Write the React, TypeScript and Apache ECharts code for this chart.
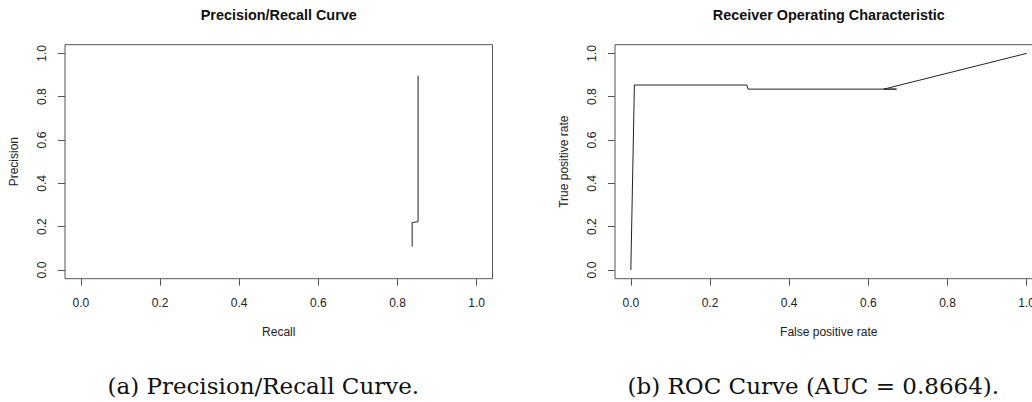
import React, { useEffect, useRef } from "react";
import * as echarts from "echarts";

// Precision/Recall curve
const prRecall = [0.852, 0.852, 0.837, 0.837];
const prPrecision = [0.897, 0.223, 0.219, 0.108];

// ROC curve
const rocFpr = [0, 0.009, 0.293, 0.296, 0.671, 0.639, 1.0];
const rocTpr = [0, 0.854, 0.854, 0.835, 0.835, 0.835, 1.0];

const tickValues = [0, 0.2, 0.4, 0.6, 0.8, 1.0];

const titles = ["Precision/Recall Curve", "Receiver Operating Characteristic"];
const xNames = ["Recall", "False positive rate"];
const yNames = ["Precision", "True positive rate"];
const captions = ["(a) Precision/Recall Curve.", "(b) ROC Curve (AUC = 0.8664)."];

const SANS = "'Liberation Sans', Arial, Helvetica, sans-serif";
const SERIF = "'DejaVu Serif', 'Liberation Serif', serif";
const AXIS_COLOR = "#555";
const TEXT_COLOR = "#222";

const gridLefts = [65, 615];
const GRID_TOP = 44.7;
const GRID_W = 427.5;
const GRID_H = 234;

function makeXAxis(i: number) {
  return {
    type: "value",
    gridIndex: i,
    min: -0.04,
    max: 1.04,
    axisLine: { show: false, onZero: false },
    splitLine: { show: false },
    axisTick: {
      show: true,
      inside: false,
      customValues: tickValues,
      length: 7,
      lineStyle: { color: AXIS_COLOR, width: 1 },
    },
    axisLabel: {
      customValues: tickValues,
      formatter: (v: number) => v.toFixed(1),
      margin: 18,
      fontSize: 12,
      color: TEXT_COLOR,
      fontFamily: SANS,
    },
    name: xNames[i],
    nameLocation: "middle",
    nameGap: 47,
    nameTextStyle: { fontSize: 12, color: TEXT_COLOR, fontFamily: SANS },
  };
}

function makeYAxis(i: number) {
  return {
    type: "value",
    gridIndex: i,
    min: -0.04,
    max: 1.04,
    axisLine: { show: false, onZero: false },
    splitLine: { show: false },
    axisTick: {
      show: true,
      inside: false,
      customValues: tickValues,
      length: 7,
      lineStyle: { color: AXIS_COLOR, width: 1 },
    },
    axisLabel: {
      customValues: tickValues,
      formatter: (v: number) => v.toFixed(1),
      rotate: 90,
      margin: 17,
      fontSize: 12,
      color: TEXT_COLOR,
      fontFamily: SANS,
    },
    name: yNames[i],
    nameLocation: "middle",
    nameGap: 45,
    nameTextStyle: { fontSize: 12, color: TEXT_COLOR, fontFamily: SANS },
  };
}

export default function App() {
  const ref = useRef<HTMLDivElement>(null);

  useEffect(() => {
    if (!ref.current) return;
    const chart = echarts.init(ref.current, null, { renderer: "svg" });

    const prData = prRecall.map((r, k) => [r, prPrecision[k]]);
    const rocData = rocFpr.map((f, k) => [f, rocTpr[k]]);

    chart.setOption({
      animation: false,
      backgroundColor: "#fff",
      grid: gridLefts.map((l) => ({
        left: l,
        top: GRID_TOP,
        width: GRID_W,
        height: GRID_H,
        show: true,
        borderColor: AXIS_COLOR,
        borderWidth: 1,
        backgroundColor: "transparent",
        containLabel: false,
      })),
      xAxis: [makeXAxis(0), makeXAxis(1)],
      yAxis: [makeYAxis(0), makeYAxis(1)],
      series: [
        {
          type: "line",
          xAxisIndex: 0,
          yAxisIndex: 0,
          data: prData,
          showSymbol: false,
          symbol: "none",
          lineStyle: { color: "#222", width: 1 },
          silent: true,
        },
        {
          type: "line",
          xAxisIndex: 1,
          yAxisIndex: 1,
          data: rocData,
          showSymbol: false,
          symbol: "none",
          lineStyle: { color: "#222", width: 1 },
          silent: true,
        },
      ],
      graphic: [
        ...titles.map((t, i) => ({
          type: "text",
          x: gridLefts[i] + GRID_W / 2,
          y: 15,
          style: {
            text: t,
            fontSize: 14.4,
            fontWeight: "bold",
            fontFamily: SANS,
            fill: "#111",
            textAlign: "center",
            textVerticalAlign: "middle",
          },
        })),
        ...captions.map((t, i) => ({
          type: "text",
          x: i === 0 ? 263.3 : 813.3,
          y: 386,
          style: {
            text: t,
            fontSize: 23,
            fontFamily: SERIF,
            fill: "#111",
            textAlign: "center",
            textVerticalAlign: "middle",
          },
        })),
      ],
    });

    return () => chart.dispose();
  }, []);

  return (
    <div
      style={{
        position: "absolute",
        left: 0,
        top: 0,
        width: 1032,
        height: 402,
        overflow: "hidden",
        background: "#fff",
      }}
    >
      <div ref={ref} style={{ width: 1060, height: 402 }} />
    </div>
  );
}
